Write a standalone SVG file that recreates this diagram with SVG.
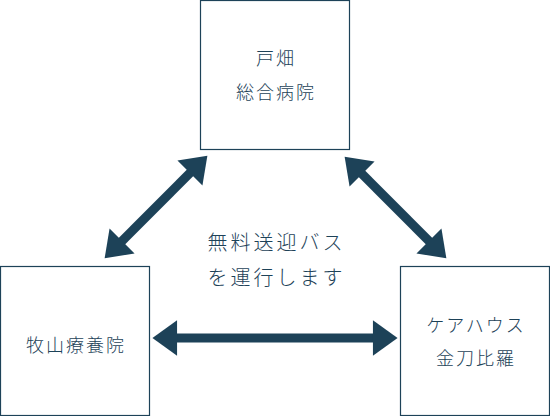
<svg xmlns="http://www.w3.org/2000/svg" width="550" height="416" viewBox="0 0 550 416">
<style>
.box{fill:#fff;stroke:#1d4258;stroke-width:1.2}
.t{font-family:"Noto Sans CJK JP","Noto Sans",sans-serif;fill:#1d4258;text-anchor:middle;font-weight:300}
.n{font-size:18px;letter-spacing:2px}
.c{font-size:20px;letter-spacing:3px}
.conn{stroke:#1d4258;stroke-width:9;fill:none}
</style>
<defs>
<marker id="ah" markerUnits="userSpaceOnUse" markerWidth="30" markerHeight="40" viewBox="-2 -18 28 36" refX="1" refY="0" orient="auto-start-reverse">
<path d="M0,-16.5 L23,0 L0,16.5 Z" fill="#1d4258"/>
</marker>
</defs>
<rect width="550" height="416" fill="#fff"/>
<g id="tobata">
<rect class="box" x="200.5" y="0.5" width="149" height="149"/>
<text class="t n" x="276" y="65">戸畑</text>
<text class="t n" x="276" y="99">総合病院</text>
</g>
<g id="makiyama">
<rect class="box" x="0.5" y="266.5" width="149" height="149"/>
<text class="t n" x="76" y="352">牧山療養院</text>
</g>
<g id="kotohira">
<rect class="box" x="400.5" y="266.5" width="149" height="149"/>
<text class="t n" x="476" y="332">ケアハウス</text>
<text class="t n" x="476" y="365">金刀比羅</text>
</g>
<g id="label">
<text class="t c" x="276.5" y="250">無料送迎バス</text>
<text class="t c" x="276.5" y="285">を運行します</text>
</g>
<g id="connectors">
<line class="conn" x1="121.3" y1="241.7" x2="190.7" y2="172.3" marker-start="url(#ah)" marker-end="url(#ah)"/>
<line class="conn" x1="361.3" y1="173.3" x2="429.7" y2="241.7" marker-start="url(#ah)" marker-end="url(#ah)"/>
<line class="conn" x1="176" y1="338" x2="374" y2="338" marker-start="url(#ah)" marker-end="url(#ah)"/>
</g>
</svg>
